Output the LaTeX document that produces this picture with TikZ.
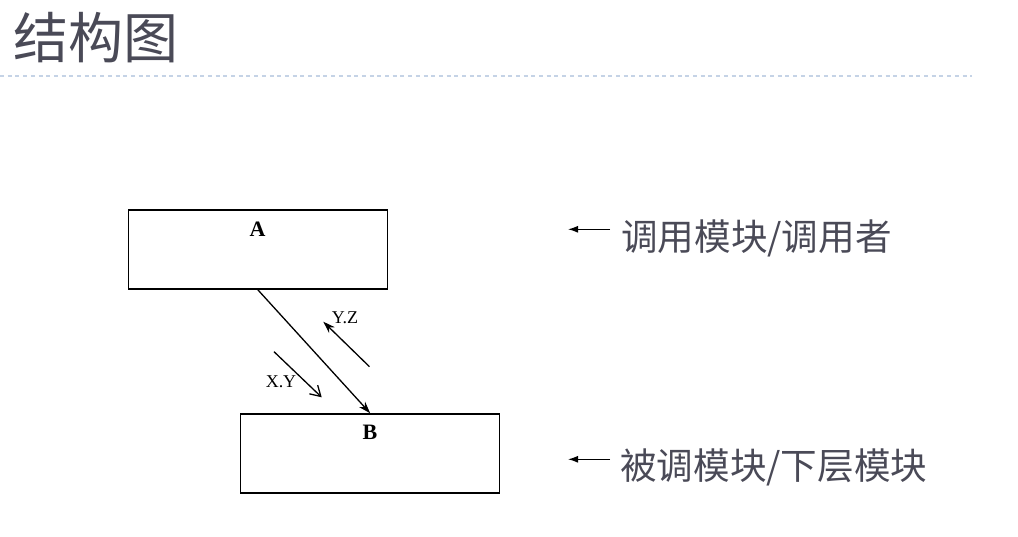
\documentclass[tikz,border=0pt]{standalone}
\usepackage{fontspec}
\setmainfont{Liberation Serif}
\newfontfamily\cjk{Noto Sans CJK SC}
\usepackage{xcolor}
\usetikzlibrary{arrows.meta,positioning}
\definecolor{ink}{HTML}{4A4A57}
\definecolor{rule}{HTML}{C5D3E6}
\tikzset{
  modbox/.style={draw, line width=1.5pt, minimum width=259pt, minimum height=79pt,
                 inner sep=0pt},
  boxlbl/.style={font=\fontsize{22}{24}\selectfont\bfseries},
  msg/.style={font=\fontsize{18}{20}\selectfont, inner sep=1pt},
  call/.style={-{Stealth[length=12pt,width=8pt]}, line width=1.3pt},
  ret/.style={-{Straight Barb[length=10pt,width=12pt]}, line width=1.3pt},
  note/.style={font=\cjk\fontsize{36.6}{40}\selectfont, text=ink, anchor=west,
               inner sep=0pt},
  pointer/.style={-{Latex[length=10pt,width=7pt]}, line width=1.3pt},
}

\begin{document}
\begin{tikzpicture}[x=1pt, y=-1pt]
  \useasboundingbox (0,0) rectangle (1018,537);
  % title and rule
  \node[font=\cjk\fontsize{55}{60}\selectfont, text=ink, anchor=west, inner sep=0pt]
    (title) at (13,38) {结构图};
  \coordinate (rl) at (0,76);
  \coordinate (rr) at (972,76);
  \draw[rule, line width=2pt, dash pattern=on 4pt off 3.7pt] (rl) -- (rr);
  % modules
  \node[modbox] (A) at (257.8,249.5) {};
  \node[boxlbl] (Alab) at (257.5,229) {A};
  \node[modbox] (B) at (370.2,453.5) {};
  \node[boxlbl] (Blab) at (370,432.5) {B};
  \draw[call] (A.south) -- (B.north);
  % parameters and results
  \coordinate (xy1) at (274,351.7);
  \coordinate (xy2) at (321.7,397.3);
  \draw[ret] (xy1) -- (xy2);
  \node[msg] (xy) at (281,381.5) {X.Y};
  \coordinate (yz1) at (369.5,366.7);
  \coordinate (yz2) at (323.3,321.7);
  \draw[call] (yz1) -- (yz2);
  \node[msg] (yz) at (345,317.5) {Y.Z};
  % notes
  \node[note] (caller) at (621,238) {调用模块/调用者};
  \coordinate (p1s) at (610,229.3);
  \coordinate (p1e) at (568,229.3);
  \draw[pointer] (p1s) -- (p1e);
  \node[note] (callee) at (620,467.5) {被调模块/下层模块};
  \coordinate (p2s) at (610,459.3);
  \coordinate (p2e) at (568,459.3);
  \draw[pointer] (p2s) -- (p2e);
\end{tikzpicture}
\end{document}
